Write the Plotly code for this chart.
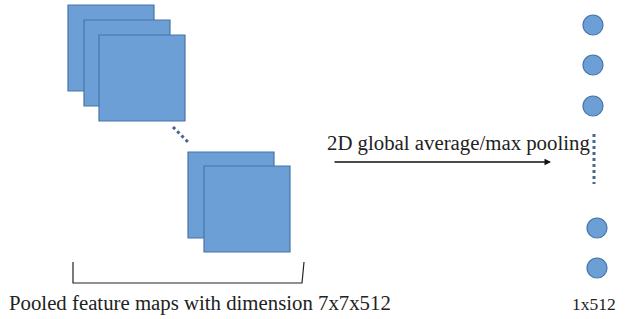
import plotly.graph_objects as go

# Feature-map squares: (left, top) in pixel-like diagram units, size
square_left = [68, 84, 99, 188, 204]
square_top = [5, 20, 35, 152, 166]
square_size = 86

# Output vector circles (centre y)
circle_x = [593, 593, 593, 597, 597]
circle_y = [25, 65, 106, 228, 268]

labels = {
    "maps": "Pooled feature maps with dimension 7x7x512",
    "pool": "2D global average/max pooling",
    "vec": "1x512",
}

FILL = "#6C9FD6"
EDGE = "#4874A8"
DOT = "#46698E"
FONT = "Liberation Serif"
FS = 20.8

fig = go.Figure()

shapes = []
for l, t in zip(square_left, square_top):
    shapes.append(dict(type="rect", xref="x", yref="y", x0=l, x1=l + square_size,
                       y0=t, y1=t + square_size, fillcolor=FILL,
                       line=dict(color=EDGE, width=1.2)))

# dotted diagonal between stacks
fig.add_trace(go.Scatter(x=[173, 189], y=[127, 143], mode="lines",
                         line=dict(color=DOT, width=3, dash="dot"),
                         hoverinfo="skip", showlegend=False))
# dotted vertical between circles
fig.add_trace(go.Scatter(x=[594, 594], y=[134, 184], mode="lines",
                         line=dict(color=DOT, width=3, dash="dot"),
                         hoverinfo="skip", showlegend=False))

# circles
fig.add_trace(go.Scatter(x=circle_x, y=circle_y, mode="markers",
                         marker=dict(size=20, color=FILL, line=dict(color=EDGE, width=1.2)),
                         hoverinfo="skip", showlegend=False))

# bracket
fig.add_trace(go.Scatter(x=[73, 73, 302, 304], y=[262, 283, 283, 262], mode="lines",
                         line=dict(color="#222222", width=1.2),
                         hoverinfo="skip", showlegend=False))

# arrow
fig.add_annotation(x=551, y=162, ax=333, ay=162, xref="x", yref="y", axref="x", ayref="y",
                   showarrow=True, arrowhead=2, arrowsize=1, arrowwidth=1.3,
                   arrowcolor="#111111", text="")

fig.add_annotation(x=7, y=303, xref="x", yref="y", text=labels["maps"], showarrow=False,
                   xanchor="left", yanchor="middle",
                   font=dict(family=FONT, size=FS, color="#222222"))
fig.add_annotation(x=325, y=143, xref="x", yref="y", text=labels["pool"], showarrow=False,
                   xanchor="left", yanchor="middle",
                   font=dict(family=FONT, size=FS, color="#222222"))
fig.add_annotation(x=594, y=304, xref="x", yref="y", text=labels["vec"], showarrow=False,
                   xanchor="center", yanchor="middle",
                   font=dict(family=FONT, size=17.5, color="#222222"))

fig.update_layout(
    width=625, height=319, margin=dict(l=0, r=0, t=0, b=0),
    paper_bgcolor="white", plot_bgcolor="white", shapes=shapes,
    xaxis=dict(range=[0, 625], visible=False, fixedrange=True),
    yaxis=dict(range=[319, 0], visible=False, fixedrange=True),
)

# remove the default 8px page margin so the figure fills the window exactly
fig.write_html("out.html", config={"displayModeBar": False, "staticPlot": True},
               post_script="document.body.style.margin='0';document.body.style.overflow='hidden';")
